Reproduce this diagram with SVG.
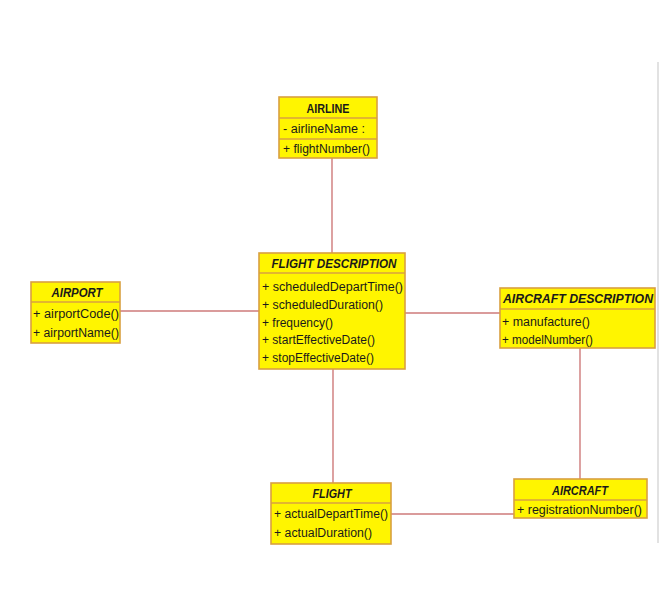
<svg xmlns="http://www.w3.org/2000/svg" width="659" height="609" viewBox="0 0 659 609">
<style>
.box{fill:#FFF500;stroke:#D9A040;stroke-width:1.6}
.div{stroke:#D9A040;stroke-width:1.4}
.conn line{stroke:#CE7A7A;stroke-width:1.4}
text{font-family:"Liberation Sans",Arial,sans-serif;fill:#1a1a1a;font-size:12.5px}
.t{font-weight:bold;text-anchor:middle}
.ti{font-weight:bold;font-style:italic;text-anchor:middle}
</style>
<rect width="659" height="609" fill="#ffffff"/>
<line x1="658" y1="62" x2="658" y2="543" stroke="#d8d8d8" stroke-width="1.5"/>
<g id="connectors" class="conn">
<line x1="332" y1="158" x2="332" y2="253"/>
<line x1="120" y1="311" x2="259" y2="311"/>
<line x1="405" y1="313" x2="500" y2="313"/>
<line x1="333" y1="369" x2="333" y2="483"/>
<line x1="580" y1="348" x2="580" y2="479"/>
<line x1="391" y1="514" x2="514" y2="514"/>
</g>
<g id="airline">
<rect class="box" x="279" y="97" width="98" height="61"/>
<line class="div" x1="279" y1="118" x2="377" y2="118"/>
<line class="div" x1="279" y1="139" x2="377" y2="139"/>
<text class="t" x="328" y="113" textLength="43" lengthAdjust="spacingAndGlyphs">AIRLINE</text>
<text x="283" y="133" textLength="82" lengthAdjust="spacingAndGlyphs">- airlineName :</text>
<text x="283" y="153" textLength="87" lengthAdjust="spacingAndGlyphs">+ flightNumber()</text>
</g>
<g id="flight-description">
<rect class="box" x="259" y="253" width="146" height="116"/>
<line class="div" x1="259" y1="273" x2="405" y2="273"/>
<text class="ti" x="334" y="268" textLength="125" lengthAdjust="spacingAndGlyphs">FLIGHT DESCRIPTION</text>
<text x="262" y="291" textLength="141" lengthAdjust="spacingAndGlyphs">+ scheduledDepartTime()</text>
<text x="262" y="309" textLength="121" lengthAdjust="spacingAndGlyphs">+ scheduledDuration()</text>
<text x="262" y="327" textLength="71" lengthAdjust="spacingAndGlyphs">+ frequency()</text>
<text x="262" y="344" textLength="113" lengthAdjust="spacingAndGlyphs">+ startEffectiveDate()</text>
<text x="262" y="362" textLength="112" lengthAdjust="spacingAndGlyphs">+ stopEffectiveDate()</text>
</g>
<g id="airport">
<rect class="box" x="31" y="282" width="89" height="61"/>
<line class="div" x1="31" y1="302" x2="120" y2="302"/>
<text class="ti" x="77" y="297" textLength="51" lengthAdjust="spacingAndGlyphs">AIRPORT</text>
<text x="33" y="318" textLength="86" lengthAdjust="spacingAndGlyphs">+ airportCode()</text>
<text x="33" y="337" textLength="86" lengthAdjust="spacingAndGlyphs">+ airportName()</text>
</g>
<g id="aircraft-description">
<rect class="box" x="500" y="288" width="155" height="60"/>
<line class="div" x1="500" y1="309" x2="655" y2="309"/>
<text class="ti" x="578" y="303" textLength="150" lengthAdjust="spacingAndGlyphs">AIRCRAFT DESCRIPTION</text>
<text x="502" y="326" textLength="88" lengthAdjust="spacingAndGlyphs">+ manufacture()</text>
<text x="502" y="344" textLength="91" lengthAdjust="spacingAndGlyphs">+ modelNumber()</text>
</g>
<g id="flight">
<rect class="box" x="271" y="483" width="120" height="61"/>
<line class="div" x1="271" y1="503" x2="391" y2="503"/>
<text class="ti" x="332" y="498" textLength="39" lengthAdjust="spacingAndGlyphs">FLIGHT</text>
<text x="274" y="518" textLength="114" lengthAdjust="spacingAndGlyphs">+ actualDepartTime()</text>
<text x="274" y="537" textLength="98" lengthAdjust="spacingAndGlyphs">+ actualDuration()</text>
</g>
<g id="aircraft">
<rect class="box" x="514" y="479" width="133" height="39"/>
<line class="div" x1="514" y1="500" x2="647" y2="500"/>
<text class="ti" x="580" y="495" textLength="56" lengthAdjust="spacingAndGlyphs">AIRCRAFT</text>
<text x="517" y="514" textLength="125" lengthAdjust="spacingAndGlyphs">+ registrationNumber()</text>
</g>
</svg>
